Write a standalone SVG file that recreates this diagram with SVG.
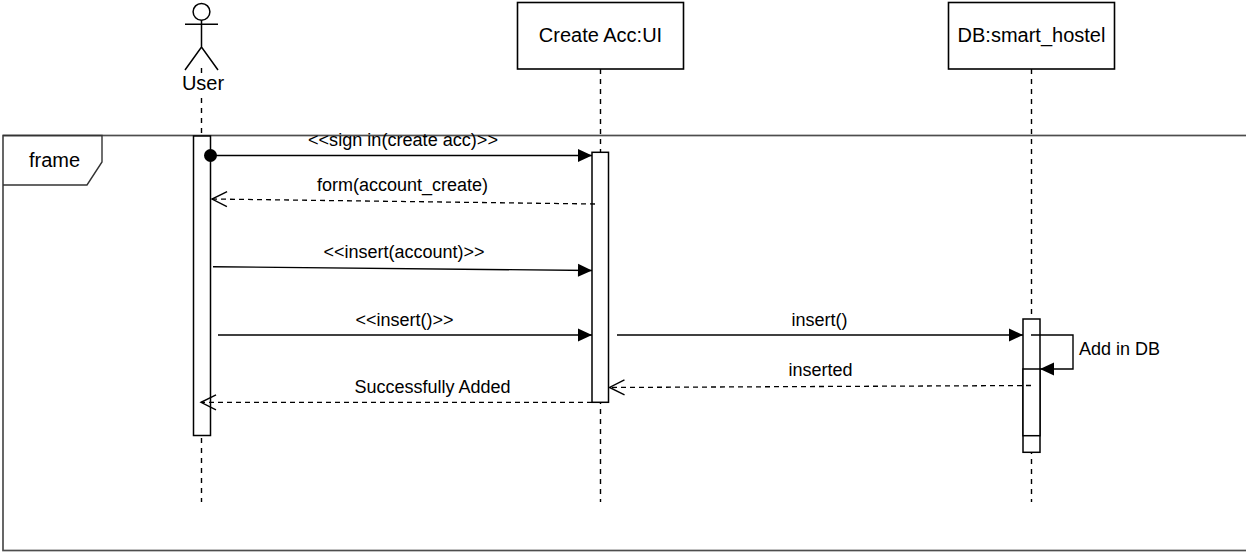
<svg xmlns="http://www.w3.org/2000/svg" width="1246" height="552" viewBox="0 0 1246 552">
<style>
text{font-family:"Liberation Sans",Arial,sans-serif;fill:#000}
.node{font-size:20px}
.msg{font-size:18px}
.box{fill:#fff;stroke:#000;stroke-width:1.6}
.life{stroke:#000;stroke-width:1.4;stroke-dasharray:5 5;fill:none}
.call{stroke:#000;stroke-width:1.4;fill:none}
.ret{stroke:#000;stroke-width:1.3;stroke-dasharray:5 4;fill:none}
.act{fill:#fff;stroke:#000;stroke-width:1.5}
</style>
<defs>
<marker id="block" markerUnits="userSpaceOnUse" markerWidth="16" markerHeight="16" refX="14" refY="6.5" orient="auto" overflow="visible">
<path d="M0,0 L14,6.5 L0,13 z" fill="#000"/>
</marker>
<marker id="open" markerUnits="userSpaceOnUse" markerWidth="18" markerHeight="18" refX="15" refY="7.5" orient="auto" overflow="visible">
<path d="M0,0 L15,7.5 L0,15" fill="none" stroke="#000" stroke-width="1.4"/>
</marker>
</defs>
<rect width="1246" height="552" fill="#fff"/>

<g id="frame">
<rect x="3" y="135.5" width="1260" height="415" fill="none" stroke="#4d4d4d" stroke-width="1.7"/>
<path d="M3,135.5 H102 V162 L87,185 H3" fill="none" stroke="#333" stroke-width="1.4"/>
<text class="node" x="29" y="167">frame</text>
</g>

<g id="user">
<line class="life" x1="201.5" y1="68" x2="201.5" y2="502"/>
<rect x="180" y="74" width="46" height="22" fill="#fff"/>
<circle cx="201.5" cy="11.8" r="8.4" fill="#fff" stroke="#000" stroke-width="1.5"/>
<path d="M201.5,20.2 V47 M185,24.3 H218 M185,70 L201.5,47 L218,70" fill="none" stroke="#000" stroke-width="1.5"/>
<text class="node" x="203" y="90" text-anchor="middle">User</text>
<rect class="act" x="193.5" y="136" width="17" height="299.5"/>
</g>

<g id="createacc">
<line class="life" x1="600.5" y1="69" x2="600.5" y2="502"/>
<rect class="box" x="517.5" y="2.5" width="166" height="66.5"/>
<text class="node" x="600.5" y="42" text-anchor="middle">Create Acc:UI</text>
<rect class="act" x="592" y="152.3" width="16.5" height="250"/>
</g>

<g id="db">
<line class="life" x1="1031.5" y1="69" x2="1031.5" y2="502"/>
<rect class="box" x="948.5" y="2.5" width="166" height="66.5"/>
<text class="node" x="1031.5" y="42" text-anchor="middle">DB:smart_hostel</text>
<rect class="act" x="1023" y="319" width="17" height="133.3"/>
<rect class="act" x="1023" y="369" width="17" height="66.7"/>
</g>

<g id="connectors">
<circle cx="210.5" cy="155.5" r="6.5" fill="#000"/>
<line class="call" x1="210.5" y1="155.5" x2="592" y2="155.5" marker-end="url(#block)"/>
<text class="msg" x="403" y="146" font-size="17" text-anchor="middle" textLength="190" lengthAdjust="spacingAndGlyphs">&lt;&lt;sign in(create acc)&gt;&gt;</text>

<line class="ret" x1="595" y1="204" x2="212" y2="199" marker-end="url(#open)"/>
<text class="msg" x="402.5" y="191" text-anchor="middle">form(account_create)</text>

<line class="call" x1="213" y1="266.7" x2="592" y2="270.5" marker-end="url(#block)"/>
<text class="msg" x="404" y="258" text-anchor="middle">&lt;&lt;insert(account)&gt;&gt;</text>

<line class="call" x1="218" y1="335" x2="592" y2="335" marker-end="url(#block)"/>
<text class="msg" x="404.5" y="326" text-anchor="middle">&lt;&lt;insert()&gt;&gt;</text>

<line class="call" x1="617" y1="335" x2="1023" y2="335" marker-end="url(#block)"/>
<text class="msg" x="819.5" y="326" text-anchor="middle">insert()</text>

<path class="call" d="M1031,335 H1073 V369 H1040" marker-end="url(#block)"/>
<text class="msg" x="1079" y="355">Add in DB</text>

<line class="ret" x1="1031" y1="385.5" x2="609.5" y2="387.5" marker-end="url(#open)"/>
<text class="msg" x="820.5" y="376" text-anchor="middle">inserted</text>

<line class="ret" x1="592" y1="402.3" x2="201" y2="402.3" marker-end="url(#open)"/>
<text class="msg" x="432.5" y="393" text-anchor="middle">Successfully Added</text>
</g>
</svg>
